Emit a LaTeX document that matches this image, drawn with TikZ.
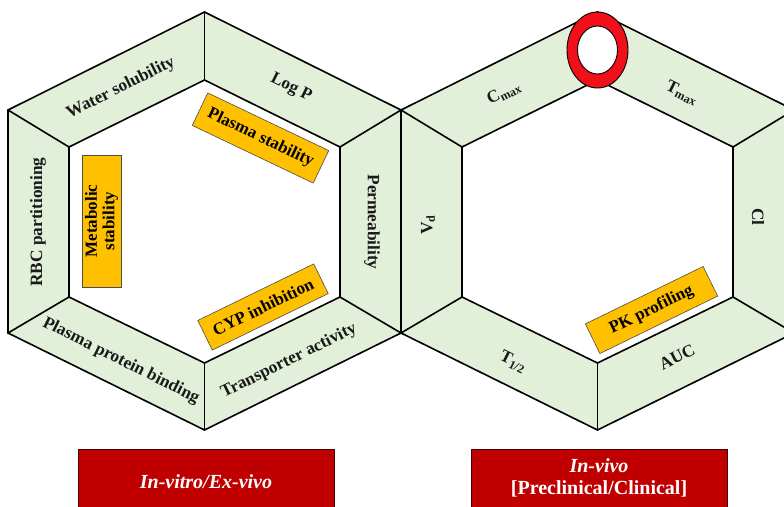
\documentclass[tikz,border=0pt]{standalone}
\usepackage{fontspec}
\setmainfont{Liberation Serif}
\definecolor{bandgreen}{HTML}{E2EFD9}
\definecolor{boxorange}{HTML}{FFC000}
\definecolor{boxred}{HTML}{C00000}
\definecolor{ringred}{HTML}{F0101A}
\tikzset{
  edge/.style={draw=black, line width=1.6pt, line join=miter},
  lab/.style={font=\fontsize{17.3}{19}\selectfont\bfseries, inner sep=0pt, text=black!90},
  orangebox/.style={draw=black!70, line width=0.6pt, fill=boxorange, inner sep=0pt,
    font=\fontsize{17}{18}\selectfont\bfseries, align=center},
  redbox/.style={draw=black!60!boxred, line width=0.6pt, fill=boxred, inner sep=0pt},
  redtext/.style={font=\fontsize{20}{22}\selectfont\bfseries, text=white, inner sep=0pt, align=center},
}
\begin{document}
\begin{tikzpicture}[x=1pt,y=-1pt]
\useasboundingbox (0,0) rectangle (784,506);
\clip (0,0) rectangle (784,506);
\fill[white] (0,0) rectangle (784,506);
% hexagon bands
\foreach \cx in {204.5,597.5}{
  \fill[bandgreen] (\cx,12) -- (\cx+196.5,110) -- (\cx+196.5,333) -- (\cx,430) -- (\cx-196.5,333) -- (\cx-196.5,110) -- cycle;
  \fill[white] (\cx,80) -- (\cx+135.5,147) -- (\cx+135.5,297) -- (\cx,363) -- (\cx-135.5,297) -- (\cx-135.5,147) -- cycle;
  \draw[edge] (\cx,12) -- (\cx+196.5,110) -- (\cx+196.5,333) -- (\cx,430) -- (\cx-196.5,333) -- (\cx-196.5,110) -- cycle;
  \draw[edge] (\cx,80) -- (\cx+135.5,147) -- (\cx+135.5,297) -- (\cx,363) -- (\cx-135.5,297) -- (\cx-135.5,147) -- cycle;
  \draw[edge] (\cx,12) -- (\cx,80);
  \draw[edge] (\cx+196.5,110) -- (\cx+135.5,147);
  \draw[edge] (\cx+196.5,333) -- (\cx+135.5,297);
  \draw[edge] (\cx,430) -- (\cx,363);
  \draw[edge] (\cx-196.5,333) -- (\cx-135.5,297);
  \draw[edge] (\cx-196.5,110) -- (\cx-135.5,147);
}
% left hexagon labels
\node[lab, rotate=26.5] (ws) at (121,88) {Water solubility};
\node[lab, rotate=-26.5] (logp) at (291,88) {Log P};
\node[lab, rotate=90] (rbc) at (38,222) {RBC partitioning};
\node[lab, rotate=-90] (perm) at (372,222) {Permeability};
\node[lab, rotate=-26.5] (ppb) at (121,361) {Plasma protein binding};
\node[lab, rotate=26.5] (ta) at (289,361) {Transporter activity};
% right hexagon labels
\node[lab, rotate=26.5] (cmax) at (504,93) {C\textsubscript{max}};
\node[lab, rotate=-26.5] (tmax) at (682,93) {T\textsubscript{max}};
\node[lab, rotate=90] (vd) at (428,225) {V\textsubscript{d}};
\node[lab, rotate=-90] (cl) at (758,217) {Cl};
\node[lab, rotate=-26.5] (thalf) at (513,362) {T\textsubscript{1/2}};
\node[lab, rotate=26.5] (auc) at (677,357) {AUC};
% orange boxes
\node[orangebox, rotate=-25.5, minimum width=134pt, minimum height=36pt] (ps) at (260.5,138) {Plasma stability};
\node[orangebox, rotate=26, minimum width=129pt, minimum height=33pt] (cyp) at (263,307) {CYP inhibition};
\node[orangebox, rotate=26, minimum width=131pt, minimum height=33pt] (pk) at (651.5,310) {PK profiling};
\node[orangebox, rotate=90, minimum width=132pt, minimum height=39pt, font=\fontsize{17}{17.5}\selectfont\bfseries] (ms) at (101.5,221) {Metabolic\\stability};
% red ring
\draw[fill=ringred, draw=black, line width=0.9pt] (597.5,50) ellipse [x radius=30.5, y radius=38];
\draw[fill=white, draw=black, line width=0.9pt] (597.5,50) ellipse [x radius=20, y radius=24];
% bottom boxes
\node[redbox, minimum width=256pt, minimum height=62pt, anchor=north west] (invitro) at (78,449) {};
\node[redtext, font=\fontsize{20}{22}\selectfont\bfseries\itshape] (invitrot) at (206,482) {In-vitro/Ex-vivo};
\node[redbox, minimum width=256pt, minimum height=62pt, anchor=north west] (invivo) at (471,449) {};
\node[redtext] (invivot) at (599,478) {\itshape In-vivo\\{}[Preclinical/Clinical]};
\end{tikzpicture}
\end{document}
